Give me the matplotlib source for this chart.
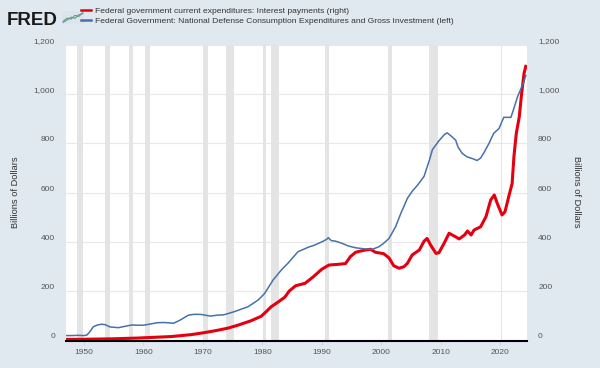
import matplotlib
matplotlib.use("Agg")
import matplotlib.pyplot as plt
from matplotlib.ticker import FuncFormatter

plt.rcParams['font.family'] = ['Liberation Sans', 'DejaVu Sans']

# National defense consumption expenditures and gross investment (left axis), billions
defense_years = [1947.0, 1948.0, 1949.0, 1950.0, 1950.5, 1951.0, 1951.6, 1952.3, 1953.0, 1953.6,
                 1954.4, 1955.8, 1957.0, 1958.1, 1959.0, 1960.0, 1961.0, 1962.3, 1963.5, 1965.1,
                 1966.2, 1967.6, 1968.5, 1969.6, 1971.3, 1972.5, 1973.5, 1975.3, 1977.6, 1979.3,
                 1980.4, 1981.8, 1983.2, 1984.3, 1986.0, 1987.7, 1988.8, 1990.0, 1990.8, 1991.1,
                 1991.6, 1992.3, 1993.4, 1994.5, 1995.7, 1997.3, 1998.5, 1999.6, 2000.4, 2001.3,
                 2002.4, 2003.3, 2004.4, 2005.2, 2006.1, 2007.2, 2008.1, 2008.6, 2009.7, 2010.6,
                 2011.1, 2011.9, 2012.5, 2012.9, 2013.6, 2014.4, 2015.3, 2016.1, 2016.7, 2017.2,
                 2018.1, 2018.9, 2019.8, 2020.4, 2020.6, 2021.8, 2022.2, 2022.9, 2023.5, 2023.9,
                 2024.3]
defense = [20, 20, 21, 20, 22, 35, 56, 63, 66, 64,
           55, 52, 58, 63, 62, 62, 66, 72, 73, 70,
           83, 103, 106, 106, 99, 103, 104, 117, 137, 164,
           191, 245, 286, 313, 360, 378, 387, 400, 410, 417,
           405, 403, 394, 383, 376, 371, 370, 380, 394, 414,
           461, 516, 577, 605, 630, 666, 732, 774, 810, 835,
           842, 826, 813, 785, 759, 745, 738, 730, 740, 759,
           799, 840, 860, 894, 905, 905, 934, 988, 1022, 1043,
           1075]

# Federal government current expenditures: interest payments (right axis), billions
interest_years = [1947.0, 1950.0, 1955.0, 1959.1, 1964.7, 1968.1, 1970.3, 1972.6, 1974.2, 1975.9,
                  1978.1, 1979.8, 1980.7, 1981.5, 1982.6, 1983.8, 1984.5, 1985.6, 1987.2, 1988.6,
                  1990.0, 1991.2, 1992.8, 1994.0, 1994.8, 1995.7, 1997.3, 1998.2, 1999.0, 2000.4,
                  2001.3, 2002.1, 2003.0, 2003.8, 2004.4, 2005.2, 2006.4, 2007.2, 2007.7, 2008.3,
                  2009.2, 2009.7, 2010.6, 2011.4, 2012.3, 2013.1, 2014.0, 2014.5, 2015.1, 2015.6,
                  2016.7, 2017.6, 2018.4, 2019.0, 2019.5, 2020.3, 2020.8, 2021.5, 2022.0, 2022.3,
                  2022.7, 2023.2, 2023.6, 2024.0, 2024.3]
interest = [4.5, 5, 7, 10, 16, 24, 32, 42, 50, 62,
            80, 98, 118, 137, 155, 176, 200, 222, 232, 259,
            289, 306, 309, 312, 340, 358, 367, 370, 358, 352,
            335, 303, 293, 299, 313, 347, 367, 403, 414, 387,
            353, 356, 396, 435, 423, 412, 428, 444, 428, 448,
            461, 502, 570, 590, 556, 509, 522, 590, 637, 745,
            840, 907, 1002, 1083, 1112]

recessions = [(1948.88, 1949.79), (1953.54, 1954.38), (1957.63, 1958.29), (1960.29, 1961.13),
              (1969.96, 1970.88), (1973.88, 1975.21), (1980.04, 1980.54), (1981.54, 1982.88),
              (1990.54, 1991.21), (2001.21, 2001.88), (2007.96, 2009.46), (2020.13, 2020.29)]

x_ticks = [1950, 1960, 1970, 1980, 1990, 2000, 2010, 2020]
y_ticks = [0, 200, 400, 600, 800, 1000, 1200]

icon_x = [0, 1, 2, 3, 4, 5]
icon_green = [1, 2.2, 1.8, 3.2, 2.8, 4.2]
icon_blue = [0.6, 1.5, 2.5, 2.1, 3.4, 3.9]

BG = "#e1e9f0"
RED = "#e4000f"
BLUE = "#4572a7"
TXT = "#333333"
TICK = "#555555"

W, H = 600, 368
fig = plt.figure(figsize=(6, 3.68), dpi=100, facecolor=BG)

left, right, top, bottom = 66, 527, 44.6, 340.5
ax = fig.add_axes([left / W, 1 - bottom / H, (right - left) / W, (bottom - top) / H])
ax.set_facecolor("white")

for a, b in recessions:
    ax.axvspan(a, b, color="#e4e4e4", lw=0, zorder=0.6)

red_line, = ax.plot(interest_years, interest, color=RED, lw=2.2, zorder=3,
                    label="Federal government current expenditures: Interest payments (right)",
                    solid_joinstyle="round")
blue_line, = ax.plot(defense_years, defense, color=BLUE, lw=1.1, zorder=3.1,
                     label="Federal Government: National Defense Consumption Expenditures and Gross Investment (left)")

ax.set_xlim(1947.0, 2024.5)
ax.set_ylim(0, 1200)
ax.set_yticks(y_ticks)
ax.set_xticks(x_ticks)
ax.yaxis.set_major_formatter(FuncFormatter(lambda v, p: f"{int(v):,}"))
ax.grid(axis="y", color="#e8e8e8", lw=0.8, zorder=0.5)
ax.set_axisbelow(True)
for s in ["top", "left", "right"]:
    ax.spines[s].set_visible(False)
ax.spines["bottom"].set_color("black")
ax.spines["bottom"].set_linewidth(1.5)
ax.spines["bottom"].set_zorder(4)
ax.tick_params(axis="y", length=0, pad=8, labelsize=6, labelcolor=TICK)
ax.tick_params(axis="x", length=3, width=0.7, color="#ccd6eb", pad=3, labelsize=6, labelcolor=TICK)
for lab in ax.get_yticklabels():
    lab.set_va("bottom")

ax2 = ax.twinx()
ax2.set_ylim(0, 1200)
ax2.set_yticks(y_ticks)
ax2.yaxis.set_major_formatter(FuncFormatter(lambda v, p: f"{int(v):,}"))
for s in ax2.spines.values():
    s.set_visible(False)
ax2.tick_params(axis="y", length=0, pad=8, labelsize=6, labelcolor=TICK)
for lab in ax2.get_yticklabels():
    lab.set_va("bottom")

fig.text(16 / W, 1 - 192 / H, "Billions of Dollars", rotation=90, ha="center", va="center",
         fontsize=6.7, color=TXT)
fig.text(577 / W, 1 - 192 / H, "Billions of Dollars", rotation=270, ha="center", va="center",
         fontsize=6.7, color=TXT)

# FRED logo
fig.text(7 / W, 1 - 25 / H, "FRED", fontsize=13.5, fontweight="bold", color="#1a1a1a", va="baseline")
icon = fig.add_axes([62 / W, 1 - 24 / H, 22 / W, 13 / H])
icon.set_facecolor("#dde4ea")
icon.plot(icon_x, icon_green, color="#6aa84f", lw=0.8)
icon.plot(icon_x, icon_blue, color="#5b8fc7", lw=0.8)
icon.set_xlim(-0.3, 5.3)
icon.set_ylim(0, 4.8)
icon.set_xticks([])
icon.set_yticks([])
for s in icon.spines.values():
    s.set_visible(False)

leg = fig.legend(handles=[red_line, blue_line], loc="upper left",
                 bbox_to_anchor=(81 / W, 1 - 7 / H), frameon=False, fontsize=6.1,
                 handlelength=1.2, handletextpad=0.5, labelspacing=0.3,
                 borderpad=0, borderaxespad=0)
for t in leg.get_texts():
    t.set_color(TXT)
for ln in leg.get_lines():
    ln.set_linewidth(1.8)

fig.savefig("out.png", dpi=100, facecolor=BG)
